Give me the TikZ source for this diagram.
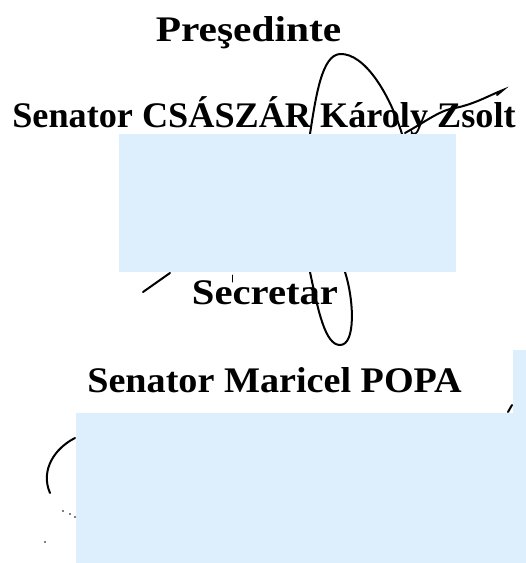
\documentclass[tikz,border=0pt]{standalone}
\usepackage{fontspec}
\setmainfont{Liberation Serif}
\definecolor{redact}{RGB}{221,238,252}
\newcommand{\widen}[2]{\scalebox{#1}[1]{#2}}
\begin{document}
\begin{tikzpicture}[x=1pt,y=-1pt,
		title/.style={font=\bfseries\fontsize{36}{40}\selectfont,anchor=base,inner sep=0pt},
		ink/.style={line width=2pt,line cap=round},
		mask/.style={fill=redact}]
	\useasboundingbox (0,0) rectangle (526,563);
	% titles and names
	\node[title] (pres) at (248.5,41) {\widen{1.15}{Preşedinte}};
	\node[title] (presname) at (264,127) {\widen{1.006}{Senator CSÁSZÁR Károly Zsolt}};
	\node[title] (secr) at (265,304) {\widen{1.13}{Secretar}};
	\node[title] (secrname) at (274.5,392) {\widen{1.06}{Senator Maricel POPA}};
	% signatures
	\draw[ink] (310,134) .. controls (316,95) and (322,55) .. (340,54)
		.. controls (365,53) and (390,95) .. (402,134);
	\draw[ink] (405,133) .. controls (425,122) and (440,110) .. (455,108)
		.. controls (475,104) and (490,95) .. (503,90) -- (497,95);
	\draw[ink] (143,292) -- (170,273);
	\draw[ink,line width=1pt] (232,275) -- (232,282);
	\draw[ink] (310,272) .. controls (318,310) and (325,345) .. (340,345)
		.. controls (356,345) and (354,300) .. (345,272);
	\draw[ink] (75,438) .. controls (55,448) and (40,470) .. (50,493);
	\draw[ink] (508,412) -- (512,405);
	\foreach \p in {(63,511),(70,514),(75,517),(45,542)}
		\fill \p circle (0.9pt);
	% redactions
	\fill[mask] (119,134) rectangle (456,272);
	\fill[mask] (76,413) rectangle (526,563);
	\fill[mask] (513,350) rectangle (526,563);
\end{tikzpicture}
\end{document}
